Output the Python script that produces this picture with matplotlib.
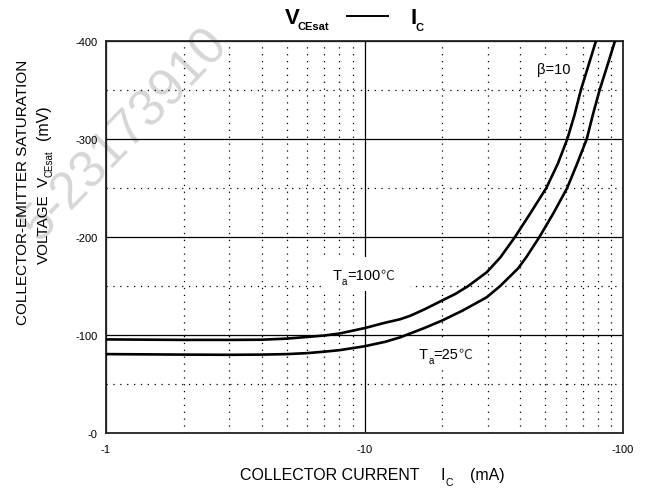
import matplotlib
matplotlib.use('Agg')
import matplotlib.pyplot as plt
from matplotlib.ticker import FixedLocator, MultipleLocator, NullFormatter
from matplotlib.lines import Line2D
from matplotlib.patches import Rectangle

plt.rcParams['font.family'] = ['Liberation Sans', 'DejaVu Sans', 'Noto Sans CJK SC']

# %% Données (valeurs absolues, mA et mV)

ic_100 = [1, 2, 3, 4, 5, 6, 7, 8, 10, 12, 13.7, 15, 17, 19.9, 22.5, 25.2, 29.7,
          33.5, 38.2, 44, 50.5, 56, 60.9, 65, 68.7, 73.5, 78.6]
vce_100 = [95.5, 95, 95, 95.2, 96.3, 98, 99.5, 101.5, 107, 112.5, 116, 119.5, 126,
           135, 142, 150, 164, 179, 200, 225, 250, 275, 300, 325, 350, 375, 400]

ic_25 = [1, 2, 3, 4, 5, 6, 7, 8, 10, 12, 13.7, 14.5, 17, 19.9, 24, 29.7, 33.5,
         39.3, 42.4, 47.5, 54, 60.8, 66.5, 72.4, 76.5, 81.2, 87, 93.1]
vce_25 = [80.5, 80, 79.8, 80, 80.5, 81.5, 83, 84.5, 88.5, 93, 97.5, 100, 107,
          114.6, 125, 138.5, 150, 168, 180, 200, 225, 250, 275, 300, 325, 350, 375, 400]

x_ticks = [1, 10, 100]
x_labels = ['-1', '-10', '-100']
y_ticks = [0, 100, 200, 300, 400]
y_labels = ['-0', '-100', '-200', '-300', '-400']

# %% Figure

W, H = 649, 489
fig = plt.figure(figsize=(W/100, H/100), dpi=100)
ax = fig.add_axes([106/W, 1-434/H, 517/W, 392/H])
ax.set_facecolor('none')

ax.plot(ic_100, vce_100, color='black', lw=1.9, solid_capstyle='butt', zorder=4)
ax.plot(ic_25, vce_25, color='black', lw=1.9, solid_capstyle='butt', zorder=4)

ax.set_xscale('log')
ax.set(xlim=(1, 100), ylim=(0, 400))
ax.xaxis.set_major_locator(FixedLocator(x_ticks))
ax.xaxis.set_minor_locator(FixedLocator([2, 3, 4, 5, 6, 7, 8, 9, 20, 30, 40, 50, 60, 70, 80, 90]))
ax.xaxis.set_minor_formatter(NullFormatter())
ax.set_xticklabels(x_labels)
ax.set_yticks(y_ticks)
ax.set_yticklabels(y_labels)
ax.yaxis.set_minor_locator(MultipleLocator(50))
ax.tick_params(which='both', length=0, labelsize=8)
ax.tick_params(axis='x', pad=8)
ax.tick_params(axis='y', pad=6)

ax.grid(which='major', color='black', lw=0.9, ls='-')
ax.grid(which='minor', color='black', lw=0.9, ls=(0, (1, 4.5)))
ax.set_axisbelow(True)
for s in ax.spines.values():
    s.set_linewidth(1.3)
    s.set_color('#222222')


def fond_blanc(x0, y0, x1, y1):
    """rectangle blanc derrière une étiquette (pixels de la figure)"""
    ax.add_patch(Rectangle((x0/W, 1-y1/H), (x1-x0)/W, (y1-y0)/H, transform=fig.transFigure,
                           fc='white', ec='none', zorder=3.5, clip_on=False))


def etiquette(xy, texte, dx_celsius):
    """T avec indice a, puis =valeur et ℃"""
    kw = dict(xy=xy, textcoords='offset points', va='baseline', zorder=6)
    ax.annotate('T', xytext=(0, 0), fontsize=10.5, **kw)
    ax.annotate('a', xytext=(6.6, -3.5), fontsize=7, **kw)
    ax.annotate(texte, xytext=(10.6, 0), fontsize=10.5, **kw)
    ax.annotate('℃', xytext=(dx_celsius, 0), fontsize=10, family='Noto Sans CJK SC',
                color='#333333', **kw)


fond_blanc(322, 258, 410, 292)
etiquette((7.55, 157), '=100', 34.5)
fond_blanc(412, 341, 486, 367)
etiquette((16.25, 76.5), '=25', 28.6)
fond_blanc(534, 56, 577, 80)
ax.text(46.5, 367, 'β=10', fontsize=10.5, va='baseline', zorder=6)

# %% Titre

fig.text(285/W, 1-24/H, 'V', fontsize=16, fontweight='bold')
fig.text(298/W, 1-30/H, 'CEsat', fontsize=8, fontweight='bold')
fig.add_artist(Line2D([347/W, 388/W], [1-17/H, 1-17/H], color='black', lw=1.4))
fig.text(411/W, 1-24/H, 'I', fontsize=16, fontweight='bold')
fig.text(416/W, 1-31/H, 'C', fontsize=8, fontweight='bold')

# %% Étiquettes des axes

fig.text(240/W, 1-480/H, 'COLLECTOR CURRENT', fontsize=11.5)
fig.text(440/W, 1-480/H, 'I', fontsize=11.5)
fig.text(445/W, 1-486/H, 'C', fontsize=7.5)
fig.text(470/W, 1-480/H, '(mA)', fontsize=11.5)

rot = dict(rotation=90, rotation_mode='anchor', ha='left', va='baseline')
fig.text(27/W, 1-325/H, 'COLLECTOR-EMITTER SATURATION', fontsize=11, **rot)
fig.text(48/W, 1-264/H, 'VOLTAGE', fontsize=11, **rot)
fig.text(48/W, 1-187/H, 'V', fontsize=11, **rot)
fig.text(53/W, 1-177/H, 'CEsat', fontsize=7, **rot)
fig.text(48/W, 1-140/H, '(mV)', fontsize=11.5, **rot)

# filigrane
fig.text(125/W, 1-135/H, '5-23173910', fontsize=37, color='#d6d6d6',
         rotation=46, ha='center', va='center', zorder=-1)

plt.savefig('out.png', dpi=100)
